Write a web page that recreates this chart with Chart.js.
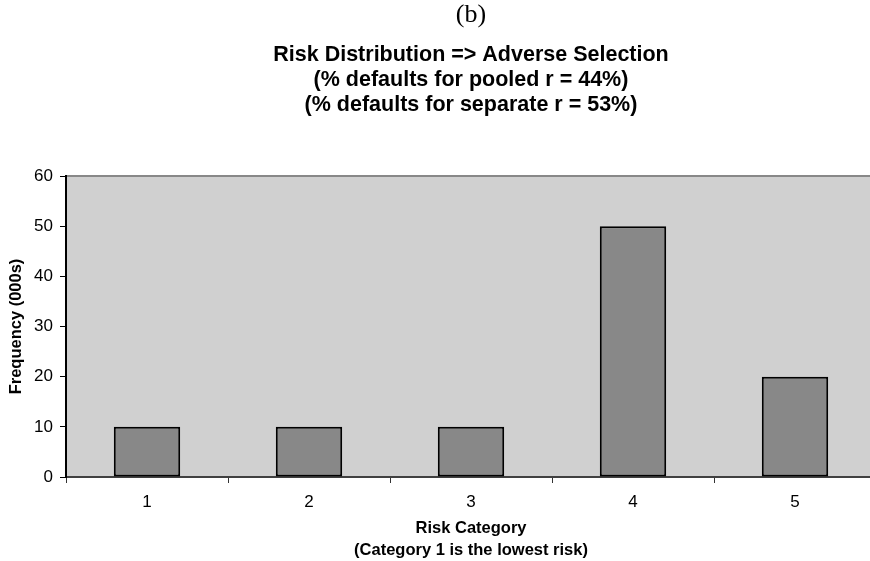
<!DOCTYPE html>
<html>
<head>
<meta charset="utf-8">
<script src="https://cdn.jsdelivr.net/npm/chart.js@4/dist/chart.umd.min.js"></script>
<style>
  html, body { margin: 0; padding: 0; background: #fff; overflow: hidden; }
  #wrap { width: 880px; height: 561px; }
</style>
</head>
<body>
<div id="wrap"><canvas id="myChart" width="880" height="561"></canvas></div>
<script>
'use strict'

const categories = ['1', '2', '3', '4', '5'];
const frequency = [10, 10, 10, 50, 20];
const yTicks = [0, 10, 20, 30, 40, 50, 60];

const titleLines = [
  'Risk Distribution => Adverse Selection',
  '(% defaults for pooled r = 44%)',
  '(% defaults for separate r = 53%)'
];

// grey plot area + top border like the spreadsheet chart
const plotBg = {
  id: 'plotBg',
  beforeDraw(chart) {
    const { ctx, chartArea: a } = chart;
    ctx.save();
    ctx.fillStyle = '#d0d0d0';
    ctx.fillRect(a.left, a.top, a.right - a.left, a.bottom - a.top);
    ctx.strokeStyle = '#888888';
    ctx.lineWidth = 2;
    ctx.beginPath();
    ctx.moveTo(a.left, a.top);
    ctx.lineTo(a.right, a.top);
    ctx.stroke();
    ctx.restore();
  }
};

const ctx = document.querySelector('#myChart');

new Chart(ctx, {
  type: 'bar',
  data: {
    labels: categories,
    datasets: [{
      data: frequency,
      backgroundColor: '#888888',
      borderColor: '#000',
      borderWidth: 2,
      borderSkipped: false,
      categoryPercentage: 1,
      barPercentage: 0.41
    }]
  },
  options: {
    responsive: false,
    animation: false,
    layout: {
      padding: { left: 0, right: 4, top: 0, bottom: 0 }
    },
    scales: {
      x: {
        afterFit: s => { s.height = 84; },
        ticks: {
          color: '#000',
          padding: 9,
          font: { family: 'Liberation Sans, Arial', size: 17 }
        },
        grid: {
          offset: true,
          drawOnChartArea: false,
          tickLength: 6,
          color: '#333'
        },
        border: { color: '#404040', width: 2 },
        title: {
          display: true,
          text: ['Risk Category', '(Category 1 is the lowest risk)'],
          color: '#000',
          padding: { top: 2, bottom: 0 },
          font: { family: 'Liberation Sans, Arial', size: 16.5, weight: 'bold', lineHeight: 1.33 }
        }
      },
      y: {
        min: 0,
        max: 60,
        afterFit: s => { s.width = 66; },
        afterBuildTicks: s => { s.ticks = yTicks.map(v => ({ value: v })); },
        ticks: {
          color: '#000',
          padding: 7,
          font: { family: 'Liberation Sans, Arial', size: 17 }
        },
        grid: {
          drawOnChartArea: false,
          tickLength: 6,
          color: '#000'
        },
        border: { color: '#000', width: 2 },
        title: {
          display: true,
          text: 'Frequency (000s)',
          color: '#000',
          padding: { top: 7, bottom: 0 },
          font: { family: 'Liberation Sans, Arial', size: 16.5, weight: 'bold' }
        }
      }
    },
    plugins: {
      legend: false,
      tooltip: { enabled: false },
      title: {
        display: true,
        fullSize: false,
        text: '(b)',
        color: '#000',
        padding: { top: 0, bottom: 11.3 },
        font: { family: 'Liberation Serif, Times New Roman', size: 26, weight: 'normal', lineHeight: 1.2 }
      },
      subtitle: {
        display: true,
        fullSize: false,
        text: titleLines,
        color: '#000',
        padding: { top: 0, bottom: 58.7 },
        font: { family: 'Liberation Sans, Arial', size: 21.5, weight: 'bold', lineHeight: 1.16 }
      }
    }
  },
  plugins: [plotBg]
});
</script>
</body>
</html>
